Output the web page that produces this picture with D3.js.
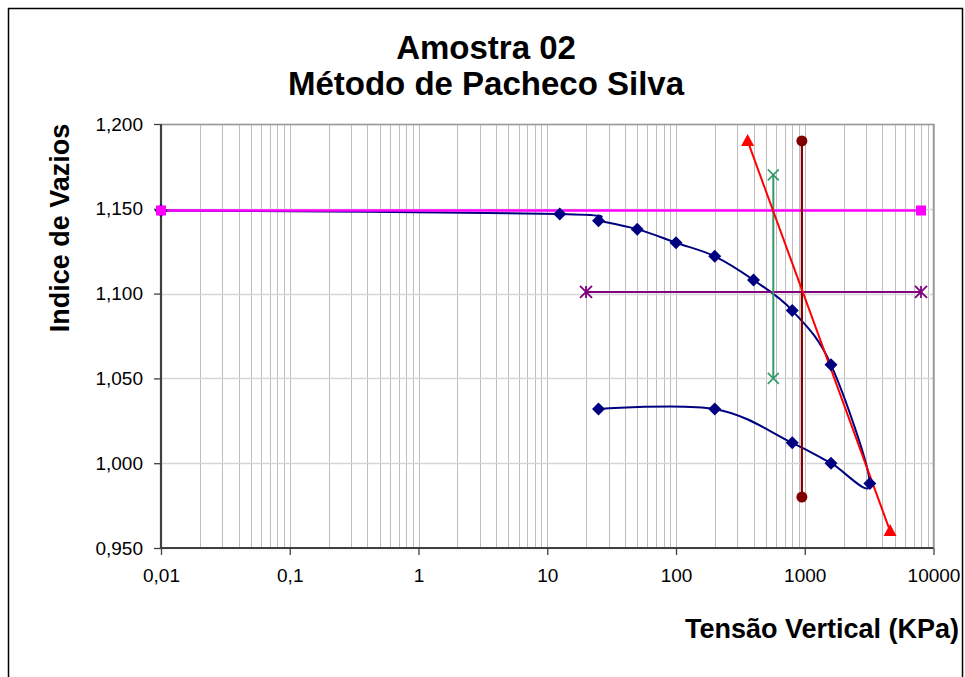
<!DOCTYPE html>
<html>
<head>
<meta charset="utf-8">
<script src="https://cdn.jsdelivr.net/npm/d3@7"></script>
<style>
  body { margin: 0; background: #fff; }
  text { font-family: "Liberation Sans", Arial, sans-serif; }
</style>
</head>
<body>
<svg id="chart" width="965" height="677"></svg>
<script>
"use strict";

// data
const curveX = [0.01, 12.5, 25, 50, 100, 200, 400, 800, 1600, 3200, 1600, 800, 200, 25];
const curveY = [1.149, 1.147, 1.143, 1.138, 1.130, 1.122, 1.108, 1.090, 1.058, 0.988, 1.000, 1.012, 1.032, 1.032];
const magentaX = [0.01, 8000], magentaY = [1.149, 1.149];
const purpleX = [20, 8000], purpleY = [1.101, 1.101];
const greenX = [570, 570], greenY = [1.170, 1.050];
const darkRedX = [950, 950], darkRedY = [1.190, 0.980];
const redX = [360, 4600], redY = [1.190, 0.960];
const xTicks = [0.01, 0.1, 1, 10, 100, 1000, 10000];
const xTickLabels = ["0,01", "0,1", "1", "10", "100", "1000", "10000"];
const yTicks = [0.95, 1.0, 1.05, 1.1, 1.15, 1.2];



// consts
const plot = { left: 161, right: 933.5, top: 124, bottom: 548 };
const svg = d3.select("#chart");



// scales
let scaleX = d3.scaleLog()
.domain([0.01, 10000])
.range([plot.left, plot.right]);

let scaleY = d3.scaleLinear()
.domain([0.95, 1.2])
.range([plot.bottom, plot.top]);

const pts = (xs, ys) => xs.map((x, i) => [scaleX(x), scaleY(ys[i])]);



// outer frame
svg.append("rect")
.attr("x", 8.5).attr("y", 8.5)
.attr("width", 954).attr("height", 700)
.attr("fill", "none").attr("stroke", "#000").attr("stroke-width", 1.5);



// grid: minor + major verticals
let vLines = [];
for (let e = -2; e < 4; e++) {
    for (let m = 1; m < 10; m++) vLines.push(m * Math.pow(10, e));
}
vLines.push(10000);
svg.append("g")
.attr("class", "grid")
.selectAll("line")
.data(vLines)
.enter()
.append("line")
.attr("x1", d => Math.round(scaleX(d)) + 0.5)
.attr("x2", d => Math.round(scaleX(d)) + 0.5)
.attr("y1", plot.top).attr("y2", plot.bottom)
.attr("stroke", "#bdbdbd").attr("stroke-width", 1);

svg.append("g")
.selectAll("line")
.data(yTicks)
.enter()
.append("line")
.attr("x1", plot.left).attr("x2", plot.right)
.attr("y1", d => Math.round(scaleY(d)) + 0.5)
.attr("y2", d => Math.round(scaleY(d)) + 0.5)
.attr("stroke", "#d6d6d6").attr("stroke-width", 1.5);

// plot border top/right
svg.append("path")
.attr("d", `M${plot.left},${plot.top + 0.5}H${plot.right}V${plot.bottom}`)
.attr("fill", "none").attr("stroke", "#999").attr("stroke-width", 1.5);



// axes
let yAxis = svg.append("g")
.attr("transform", `translate(${plot.left}, 0)`)
.call(d3.axisLeft(scaleY).tickValues(yTicks).tickSize(7).tickPadding(11)
      .tickFormat(d => d3.format(".3f")(d).replace(".", ",")));

let xAxis = svg.append("g")
.attr("transform", `translate(0, ${plot.bottom})`)
.call(d3.axisBottom(scaleX).tickValues(xTicks).tickSize(7).tickPadding(14)
      .tickFormat((d, i) => xTickLabels[i]));

[yAxis, xAxis].forEach(a => {
    a.select(".domain").attr("stroke", "#404040").attr("stroke-width", 2.2)
    .attr("d", a === yAxis ? `M0,${plot.top}V${plot.bottom}` : `M${plot.left},0H${plot.right}`);
    a.selectAll(".tick line").attr("stroke", "#404040").attr("stroke-width", 1.3);
    a.selectAll(".tick text").attr("font-size", 19).attr("fill", "#000")
    .attr("font-family", "Liberation Sans, Arial, sans-serif");
});



// series lines
const straight = d3.line();
// excel-like smoothing (uniform catmull-rom)
const smooth = d3.line().curve(d3.curveCardinal.tension(0));

svg.append("path")
.attr("d", smooth(pts(curveX, curveY)))
.attr("fill", "none").attr("stroke", "#000080").attr("stroke-width", 2);

const segs = [
    { xs: magentaX, ys: magentaY, color: "#ff00ff", w: 2.6 },
    { xs: purpleX, ys: purpleY, color: "#800080", w: 2 },
    { xs: greenX, ys: greenY, color: "#339966", w: 2 },
    { xs: darkRedX, ys: darkRedY, color: "#800000", w: 2.2 },
    { xs: redX, ys: redY, color: "#ff0000", w: 2 }
];
segs.forEach(s => {
    svg.append("path")
    .attr("d", straight(pts(s.xs, s.ys)))
    .attr("fill", "none").attr("stroke", s.color).attr("stroke-width", s.w);
});



// markers
svg.append("g")
.selectAll("path")
.data(pts(curveX, curveY))
.enter()
.append("path")
.attr("transform", d => `translate(${d[0]}, ${d[1]})`)
.attr("d", "M0,-6.5L6.5,0L0,6.5L-6.5,0Z")
.attr("fill", "#000080");

svg.append("g")
.selectAll("rect")
.data(pts(magentaX, magentaY))
.enter()
.append("rect")
.attr("x", d => d[0] - 5).attr("y", d => d[1] - 5)
.attr("width", 10).attr("height", 10)
.attr("fill", "#ff00ff");

svg.append("g")
.selectAll("path")
.data(pts(purpleX, purpleY))
.enter()
.append("path")
.attr("transform", d => `translate(${d[0]}, ${d[1]})`)
.attr("d", "M-6,-6L6,6M-6,6L6,-6M0,-6V6")
.attr("stroke", "#800080").attr("stroke-width", 1.8).attr("fill", "none");

svg.append("g")
.selectAll("path")
.data(pts(greenX, greenY))
.enter()
.append("path")
.attr("transform", d => `translate(${d[0]}, ${d[1]})`)
.attr("d", "M-5.5,-5.5L5.5,5.5M-5.5,5.5L5.5,-5.5")
.attr("stroke", "#339966").attr("stroke-width", 1.6).attr("fill", "none");

svg.append("g")
.selectAll("circle")
.data(pts(darkRedX, darkRedY))
.enter()
.append("circle")
.attr("cx", d => d[0]).attr("cy", d => d[1]).attr("r", 5.5)
.attr("fill", "#800000");

svg.append("g")
.selectAll("path")
.data(pts(redX, redY))
.enter()
.append("path")
.attr("transform", d => `translate(${d[0]}, ${d[1]})`)
.attr("d", "M0,-7L6.5,5L-6.5,5Z")
.attr("fill", "#ff0000");



// titles
svg.append("text")
.attr("x", 486).attr("y", 59)
.attr("text-anchor", "middle").attr("font-size", 33).attr("font-weight", "bold")
.text("Amostra 02");
svg.append("text")
.attr("x", 486).attr("y", 95)
.attr("text-anchor", "middle").attr("font-size", 33).attr("font-weight", "bold")
.text("Método de Pacheco Silva");

svg.append("text")
.attr("transform", "translate(69, 228) rotate(-90)")
.attr("text-anchor", "middle").attr("font-size", 27).attr("font-weight", "bold")
.text("Indice de Vazios");

svg.append("text")
.attr("x", 959).attr("y", 638)
.attr("text-anchor", "end").attr("font-size", 27).attr("font-weight", "bold")
.text("Tensão Vertical (KPa)");
</script>
</body>
</html>
